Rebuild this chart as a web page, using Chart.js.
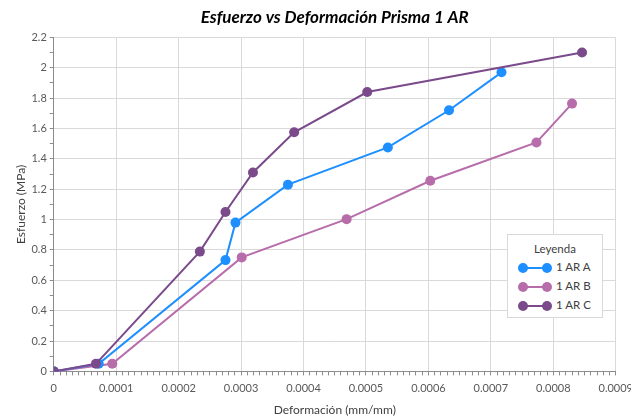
<!DOCTYPE html>
<html>
<head>
<meta charset="utf-8">
<script src="https://cdn.jsdelivr.net/npm/chart.js@4/dist/chart.umd.min.js"></script>
<style>
  html, body { margin: 0; padding: 0; background: #fff; overflow: hidden; }
  #wrap { position: relative; width: 631px; height: 417px; overflow: hidden; }
  #legend {
    position: absolute; left: 507px; top: 234px; width: 96px; height: 84px;
    box-sizing: border-box; border: 1px solid #d9d9d9; background: #fff;
    font-family: Lato, "Open Sans", sans-serif; font-size: 11.5px; color: #404040;
  }
  #legend .ttl { text-align: center; margin-top: 7px; height: 17px; }
  #legend .row { position: relative; height: 19px; }
  #legend .ln { position: absolute; left: 14px; top: 8px; width: 26px; height: 2px; }
  #legend .dot { position: absolute; top: 4px; width: 10px; height: 10px; border-radius: 50%; }
  #legend .lab { position: absolute; left: 48px; top: 1px; }
</style>
</head>
<body>
<div id="wrap">
  <canvas id="stressChart" width="639" height="417"></canvas>
  <div id="legend"><div class="ttl">Leyenda</div></div>
</div>
<script>
// Deformación (mm/mm) y Esfuerzo (MPa)
const defA = [0, 0.000072, 0.000275, 0.000291, 0.000375, 0.000535, 0.000633, 0.000717];
const esfA = [0, 0.05, 0.733, 0.98, 1.23, 1.475, 1.72, 1.97];

const defB = [0, 0.0000937, 0.000301, 0.000469, 0.000603, 0.000773, 0.00083];
const esfB = [0, 0.05, 0.751, 1.003, 1.256, 1.508, 1.764];

const defC = [0, 0.0000675, 0.000234, 0.000275, 0.000319, 0.000385, 0.000502, 0.000846];
const esfC = [0, 0.05, 0.789, 1.05, 1.31, 1.575, 1.84, 2.10];

const seriesNames = ['1 AR A', '1 AR B', '1 AR C'];
const seriesColors = ['#1e8fff', '#b86dab', '#7b4a8b'];

const fontFamily = 'Lato, "Open Sans", sans-serif';

function toPoints(xs, ys) {
    return xs.map((x, i) => ({ x: x, y: ys[i] }));
}

const seriesData = [toPoints(defA, esfA), toPoints(defB, esfB), toPoints(defC, esfC)];
const drawOrder = [1, 2, 0]; // C drawn on top

const datasets = seriesNames.map((name, i) => ({
    label: name,
    data: seriesData[i],
    borderColor: seriesColors[i],
    backgroundColor: seriesColors[i],
    borderWidth: 2,
    pointRadius: 5,
    pointHoverRadius: 5,
    pointBorderWidth: 0,
    showLine: true,
    tension: 0,
    order: drawOrder[i]
}));

const isMajorX = v => Math.round(v * 100000) % 10 === 0;
const isMajorY = v => Math.round(v * 10) % 2 === 0;

const ctx = document.getElementById('stressChart').getContext('2d');
const stressChart = new Chart(ctx, {
    type: 'scatter',
    data: { datasets: datasets },
    options: {
        responsive: false,
        animation: false,
        layout: { padding: { left: 14, right: 16, top: 5, bottom: 0 } },
        plugins: {
            legend: { display: false },
            tooltip: { enabled: false },
            title: {
                display: true,
                fullSize: false,
                text: 'Esfuerzo vs Deformación Prisma 1 AR',
                color: '#000',
                font: { family: fontFamily, size: 17, weight: 'bold', style: 'italic' },
                padding: { top: 2, bottom: 10 }
            }
        },
        scales: {
            x: {
                type: 'linear',
                min: 0,
                max: 0.0009,
                border: { color: '#8c8c8c', width: 1 },
                grid: {
                    color: c => isMajorX(c.tick.value) ? '#d9d9d9' : 'rgba(0,0,0,0)',
                    tickColor: '#8c8c8c',
                    tickLength: 4
                },
                ticks: {
                    stepSize: 0.00001,
                    autoSkip: false,
                    maxRotation: 0,
                    padding: 6,
                    color: '#595959',
                    font: { family: fontFamily, size: 11 },
                    callback: v => isMajorX(v) ? String(Number(v.toFixed(4))) : ''
                },
                title: {
                    display: true,
                    text: 'Deformación (mm/mm)',
                    color: '#404040',
                    font: { family: fontFamily, size: 12 },
                    padding: { top: 2, bottom: 0 }
                }
            },
            y: {
                min: 0,
                max: 2.2,
                border: { color: '#8c8c8c', width: 1 },
                grid: {
                    color: c => isMajorY(c.tick.value) ? '#d9d9d9' : 'rgba(0,0,0,0)',
                    tickColor: '#8c8c8c',
                    tickLength: 4
                },
                ticks: {
                    stepSize: 0.1,
                    autoSkip: false,
                    padding: 3,
                    color: '#595959',
                    font: { family: fontFamily, size: 11 },
                    callback: v => isMajorY(v) ? String(Number(v.toFixed(1))) : ''
                },
                title: {
                    display: true,
                    text: 'Esfuerzo (MPa)',
                    color: '#404040',
                    font: { family: fontFamily, size: 12 },
                    padding: { top: 0, bottom: 0 }
                }
            }
        }
    }
});

// Leyenda con los mismos nombres y colores de las series
const legendDiv = document.getElementById('legend');
seriesNames.forEach((name, i) => {
    const row = document.createElement('div');
    row.className = 'row';
    row.innerHTML =
        `<span class="ln" style="background:${seriesColors[i]}"></span>` +
        `<span class="dot" style="left:10px;background:${seriesColors[i]}"></span>` +
        `<span class="dot" style="left:34px;background:${seriesColors[i]}"></span>` +
        `<span class="lab">${name}</span>`;
    legendDiv.appendChild(row);
});
</script>
</body>
</html>
